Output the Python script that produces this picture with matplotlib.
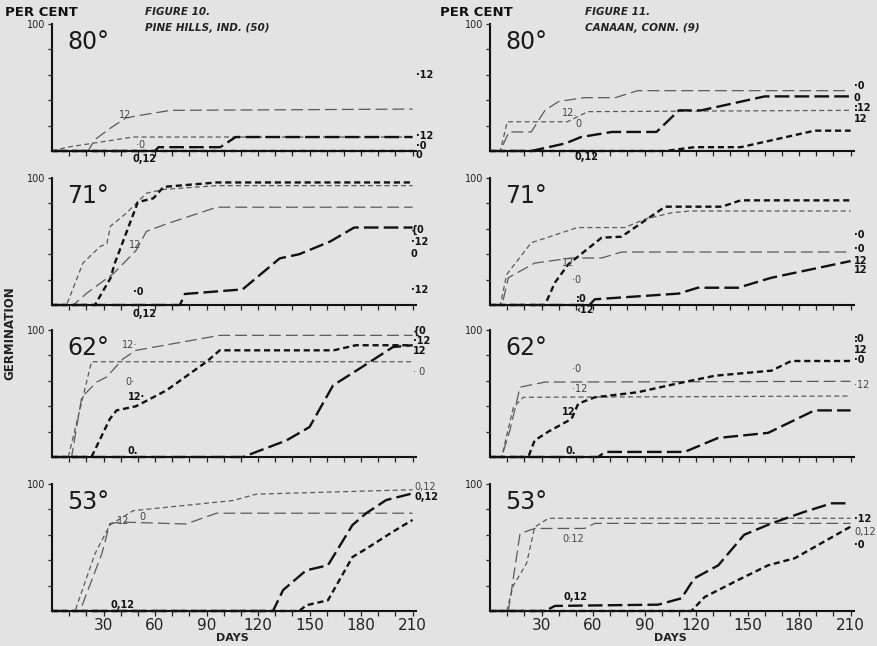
import matplotlib
matplotlib.use("Agg")
import matplotlib.pyplot as plt

# --- data: days / per cent germination ---
temps = ["80°", "71°", "62°", "53°"]
sites = ["PINE HILLS, IND. (50)", "CANAAN, CONN. (9)"]
fig_titles = ["FIGURE 10.", "FIGURE 11."]
xticks = [30, 60, 90, 120, 150, 180, 210]

# each panel: series name -> (days, per cent)
pine_80 = {
    "thin_long": ([0, 21, 25, 34, 43, 51, 69, 210], [0, 0, 9, 18, 26, 28, 32, 33]),
    "thin_short": ([0, 9, 47, 210], [0, 3, 11, 11]),
    "bold_long": ([0, 60, 62, 98, 107, 210], [0, 0, 3, 3, 11, 11]),
    "bold_short": ([0, 210], [0, 0]),
}
canaan_80 = {
    "thin_short": ([0, 6, 10, 45, 57, 210], [0, 0, 23, 23, 31, 32]),
    "thin_long": ([0, 6, 11, 24, 32, 40, 55, 73, 86, 207], [0, 0, 15, 15, 32, 39, 42, 42, 47.5, 47.5]),
    "bold_long": ([0, 24, 44, 53, 71, 97, 110, 123, 160, 210], [0, 0, 6, 11, 15, 15, 32, 32, 43, 43]),
    "bold_short": ([0, 102, 119, 146, 189, 210], [0, 0, 3, 3, 16, 16]),
}
pine_71 = {
    "thin_short": ([0, 8.5, 18, 28, 32, 34, 43, 55, 65, 96, 210], [0, 0, 33, 46, 48.5, 62, 72, 88, 91, 94, 94]),
    "bold_short": ([0, 25, 34, 36.6, 50, 59, 65, 96, 210], [0, 0, 21, 33, 81, 84, 93, 96.5, 96.5]),
    "thin_long": ([0, 12.4, 20, 36, 49, 55, 67, 96, 210], [0, 0, 9, 25, 43, 58, 64, 77, 77]),
    "bold_long": ([0, 74.5, 77.4, 111, 132.6, 144, 162, 176, 210], [0, 0, 8.7, 12.3, 36.7, 40, 50, 61, 61]),
}
canaan_71 = {
    "thin_short": ([0, 6, 9.7, 24, 51, 78.5, 90, 106, 117, 210], [0, 0, 24, 49, 61, 61, 67.5, 72.7, 74, 74]),
    "thin_long": ([0, 7, 10.7, 26, 47.5, 65, 76.6, 210], [0, 0, 21.5, 33, 37, 37, 41.7, 41.7]),
    "bold_short": ([0, 32, 37.8, 45.6, 65, 76.6, 102, 135, 146, 210], [0, 0, 17.6, 32, 53, 53.8, 77.4, 77.4, 82.4, 82.4]),
    "bold_long": ([0, 58, 61, 110, 121, 144.5, 164, 210], [0, 0, 4.5, 9, 13.6, 13.6, 21.5, 34.6]),
}
pine_62 = {
    "thin_short": ([0, 9.5, 23, 210], [0, 0, 75, 75]),
    "thin_long": ([0, 11.4, 17.3, 26, 31.8, 41.5, 49, 97.7, 210], [0, 0, 47, 59, 63, 77.4, 84, 95.8, 95.8]),
    "bold_short": ([0, 23, 33.7, 37.6, 49, 66.7, 90, 97.7, 164, 177, 210], [0, 0, 30, 36.7, 40, 52.5, 75, 84, 84, 88, 88]),
    "bold_long": ([0, 111.3, 119, 136.5, 150, 163.7, 179, 198.6, 210], [0, 0, 4, 13, 23.6, 56.4, 69.5, 86.6, 88]),
}
canaan_62 = {
    "thin_long": ([0, 6.8, 11.6, 17.5, 32, 210], [0, 0, 21, 55, 59, 59.6]),
    "thin_short": ([0, 6.8, 13.6, 19.4, 210], [0, 0, 39, 47, 48]),
    "bold_short": ([0, 22.3, 26, 34, 47.5, 51.4, 61, 86, 109.6, 131, 164, 175.5, 210],
                   [0, 0, 13, 20, 30, 42, 47, 51, 58, 64, 68, 75.6, 75.6]),
    "bold_long": ([0, 63, 67, 113.4, 132.8, 162, 189, 210], [0, 0, 4, 4, 15, 19, 36.7, 36.7]),
}
pine_53 = {
    "thin_short": ([0, 13.4, 25, 33.7, 47.3, 105.5, 119, 210], [0, 0, 45, 67.7, 79, 87, 92, 95.5]),
    "thin_long": ([0, 16.3, 29, 33.7, 41.5, 78, 95.8, 210], [0, 0, 45, 69, 70, 68.5, 77, 77]),
    "bold_long": ([0, 128.7, 134.6, 148, 160.7, 175, 183, 194.7, 210], [0, 0, 16.5, 32, 36, 67.7, 77, 87.4, 92.6]),
    "bold_short": ([0, 144, 148, 160.7, 175, 183, 198.6, 210], [0, 0, 4.5, 8.4, 42.5, 49, 62.5, 71.7]),
}
canaan_53 = {
    "thin_short": ([0, 9.7, 13.6, 21.3, 26, 34, 210], [0, 0, 20, 37.5, 66, 73, 73]),
    "thin_long": ([0, 10.7, 17.5, 26, 55, 61, 210], [0, 0, 61, 65, 65, 69, 69]),
    "bold_long": ([0, 32, 37.8, 98, 111.5, 119, 133, 148, 164, 183, 199, 210],
                  [0, 0, 4, 5, 10, 25.7, 36, 60, 69, 78, 84.8, 84.8]),
    "bold_short": ([0, 117.3, 125, 144.5, 162, 177.4, 210], [0, 0, 11, 24.4, 36, 41.5, 66.4]),
}

panels = [[pine_80, canaan_80], [pine_71, canaan_71], [pine_62, canaan_62], [pine_53, canaan_53]]

# curve labels: (day, per cent, text, bold)
notes = [
    [[(212, 60, "·12", 1), (212, 12, "·12", 1), (212, 4, "·0", 1), (212, -3.5, "0", 1),
      (39, 28, "12", 0), (49, 5, "·0", 0), (47, -6, "0,12", 1)],
     [(212, 51, "·0", 1), (212, 41.5, "0", 1), (212, 33.5, ":12", 1), (212, 25, "12", 1),
      (42, 30, "12.", 0), (50, 21, "0", 0), (49, -5, "0,12", 1)]],
    [[(209, 59, "{0", 1), (209, 49.5, "·12", 1), (209, 40.5, "0", 1), (209, 12, "·12", 1),
      (45, 47, "12", 0), (47, 10.5, "·0", 1), (47, -7, "0,12", 1)],
     [(212, 55, "·0", 1), (212, 44, "·0", 1), (212, 35, "12", 1), (212, 27.5, "12", 1),
      (42, 33, "12", 0), (48, 20, "·0", 0), (50, 5, ":0", 1), (50, -4, "‹12", 1)]],
    [[(210, 99, "{0", 1), (210, 91, "·12", 1), (210, 83.5, "12", 1), (210, 67, "· 0", 0),
      (41, 88, "12·", 0), (43, 59, "0·", 0), (44, 47, "12·", 1), (44, 5, "0.", 1)],
     [(212, 93, ":0", 1), (212, 84.5, "12", 1), (212, 76, "·0", 1), (212, 56.4, "·12", 0),
      (48, 69.6, "·0", 0), (48, 53.8, "·12", 0), (42, 35.4, "12", 1), (44, 5, "0.", 1)]],
    [[(211, 97.5, "0,12", 0), (211, 89.5, "0,12", 1), (38, 71, "12", 0), (51, 74, "0", 0),
      (34, 4.7, "0,12", 1)],
     [(212, 72.7, "·12", 1), (212, 62, "0,12", 0), (212, 51.7, "·0", 1), (42, 57, "0:12", 0),
      (43, 11, "0,12", 1)]],
]

styles = {
    "thin_short": dict(color="#5a5a5a", lw=0.9, dashes=(4.0, 2.6)),
    "thin_long": dict(color="#5a5a5a", lw=0.9, dashes=(9.5, 4.0)),
    "bold_short": dict(color="#111111", lw=1.7, dashes=(2.6, 1.6)),
    "bold_long": dict(color="#111111", lw=1.7, dashes=(6.2, 2.2)),
}

bg = "#e3e3e3"
fig = plt.figure(figsize=(8.78, 6.46), dpi=100, facecolor=bg)
W, H = 878, 646
col_left = [52, 490]
baselines = [151, 305, 457, 611]
ax_w = 364
ax_h = 127

for r in range(4):
    for c in range(2):
        ax = fig.add_axes([col_left[c] / W, 1 - baselines[r] / H, ax_w / W, ax_h / H])
        ax.set_facecolor("none")
        for name, (d, p) in panels[r][c].items():
            st = styles[name]
            ax.plot(d, p, color=st["color"], lw=st["lw"], dashes=st["dashes"],
                    clip_on=False, solid_capstyle="butt")
        ax.set_xlim(0, 212)
        ax.set_ylim(0, 100)
        for s in ["top", "right"]:
            ax.spines[s].set_visible(False)
        for s in ["left", "bottom"]:
            ax.spines[s].set_linewidth(1.5)
            ax.spines[s].set_color("#111111")
        ax.set_xticks(range(10, 211, 10))
        ax.tick_params(axis="x", direction="out", length=3.5, width=0.9, color="#222222", pad=1.5)
        if r == 3:
            ax.set_xticklabels([str(v) if v in xticks else "" for v in range(10, 211, 10)],
                               fontsize=11, color="#222222")
            ax.text(105, -21, "DAYS", ha="center", va="center", fontsize=8,
                    fontweight="bold", color="#222222")
        else:
            ax.set_xticklabels([])
        ax.set_yticks([20, 40, 60, 80, 100])
        ax.set_yticklabels(["", "", "", "", "100"], fontsize=7, color="#222222")
        ax.tick_params(axis="y", direction="out", length=3, width=0.9, color="#222222", pad=2)
        ax.text(9, 86, temps[r], fontsize=17, ha="left", va="center", color="#1a1a1a")
        for x, y, t, b in notes[r][c]:
            ax.text(x, y, t, fontsize=7, ha="left", va="center",
                    fontweight="bold" if b else "normal",
                    color="#111111" if b else "#444444")

# headers
for c in range(2):
    x0 = [5, 440][c] / W
    fig.text(x0, 1 - 13 / H, "PER CENT", fontsize=9.5, fontweight="bold", va="center",
             color="#111111")
    fig.text([145, 585][c] / W, 1 - 12 / H, fig_titles[c], fontsize=7.5, fontweight="bold",
             style="italic", va="center", color="#222222")
    fig.text([145, 585][c] / W, 1 - 28 / H, sites[c], fontsize=7.5, fontweight="bold",
             style="italic", va="center", color="#222222")
fig.text(10 / W, 1 - 333 / H, "GERMINATION", rotation=90, fontsize=8.5, fontweight="bold",
         ha="center", va="center", color="#222222")

fig.savefig("out.png", dpi=100, facecolor=bg)
